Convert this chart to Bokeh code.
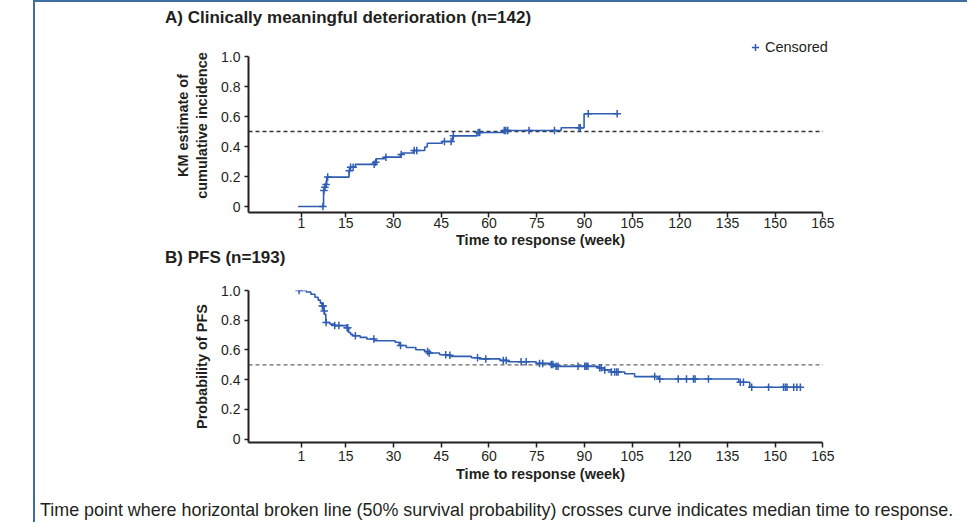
import numpy as np
from bokeh.plotting import figure
from bokeh.models import FixedTicker, Legend, LegendItem, Div
from bokeh.layouts import column
from bokeh.embed import file_html
from bokeh.resources import INLINE

# ---------------- data ----------------
title_a = "A) Clinically meaningful deterioration (n=142)"
title_b = "B) PFS (n=193)"
x_title = "Time to response (week)"
y_title_a = "KM estimate of\ncumulative incidence"
y_title_b = "Probability of PFS"
legend_label = "Censored"
footer = ("Time point where horizontal broken line (50% survival probability) "
          "crosses curve indicates median time to response.")

x_ticks = [1, 15, 30, 45, 60, 75, 90, 105, 120, 135, 150, 165]
y_ticks = [0, 0.2, 0.4, 0.6, 0.8, 1.0]
y_tick_labels = ["0", "0.2", "0.4", "0.6", "0.8", "1.0"]
median_ref = 0.5

# Panel A: cumulative incidence of clinically meaningful deterioration
times_a = [0, 8.0, 8.3, 8.6, 9.0, 16.0, 16.4, 18.0, 24.1, 24.6, 27.2, 32.1, 32.8, 36.2,
           39.8, 40.6, 45.3, 48.6, 56.2, 64.6, 82.7, 89.9]
inc_a = [0.0, 0.107, 0.128, 0.147, 0.196, 0.238, 0.262, 0.281, 0.295, 0.318, 0.329, 0.347,
         0.357, 0.373, 0.397, 0.422, 0.433, 0.471, 0.493, 0.507, 0.525, 0.618]
end_a = 100.3
censor_a = [7.8, 8.1, 8.4, 8.8, 9.3, 16.1, 16.5, 17.3, 23.9, 24.4, 27.6, 32.4, 36.5, 37.3,
            46.0, 48.1, 48.8, 56.6, 57.1, 64.8, 65.3, 65.9, 72.6, 80.6, 88.3, 88.7, 91.2, 100.3]

# Panel B: PFS probability
times_b = [0, 2.6, 4.0, 5.3, 6.3, 7.0, 7.6, 8.0, 8.3, 8.7, 10.0, 11.5, 15.4, 15.9, 16.5,
           17.2, 19.5, 21.6, 24.0, 30.5, 31.8, 34.0, 37.0, 39.8, 41.0, 44.5, 46.5, 48.0,
           54.5, 57.0, 63.5, 66.0, 74.8, 79.5, 80.6, 94.3, 96.3, 98.4, 102.7, 105.8,
           113.2, 138.5, 142.0]
surv_b = [1.0, 0.99, 0.975, 0.955, 0.935, 0.915, 0.895, 0.862, 0.84, 0.785, 0.774, 0.764,
          0.75, 0.718, 0.705, 0.696, 0.685, 0.674, 0.662, 0.652, 0.63, 0.617, 0.602, 0.59,
          0.58, 0.568, 0.564, 0.557, 0.548, 0.54, 0.53, 0.521, 0.51, 0.503, 0.49, 0.48,
          0.466, 0.452, 0.44, 0.421, 0.405, 0.383, 0.349]
end_b = 157.9
censor_b = [0.3, 7.6, 7.9, 8.2, 8.8, 11.5, 12.8, 15.4, 15.6, 18.0, 23.8, 32.2, 40.7, 41.2,
            46.4, 47.7, 56.4, 59.0, 64.5, 65.4, 70.1, 71.7, 75.9, 76.9, 79.6, 80.1, 81.1,
            81.7, 88.0, 90.1, 90.6, 91.1, 94.8, 95.3, 96.4, 98.5, 99.5, 100.1, 100.6,
            112.1, 113.7, 119.5, 122.1, 124.3, 124.8, 129.0, 139.0, 140.0, 142.6, 147.9,
            152.6, 153.2, 153.7, 155.8, 156.8, 157.9]

# ---------------- style ----------------
FONT = "Liberation Sans"
TXT = "#231f20"
BLUE = "#2f5db2"
BORDER = "#3f6fa0"
W = 932
X_START, X_END = -15.6, 168.0
FRAME_W = 584
BORDER_L = 213


def step_value(times, vals, t):
    idx = np.searchsorted(np.asarray(times), np.asarray(t), side="right") - 1
    return list(np.asarray(vals)[idx])


def make_fig(times, vals, end, censor, y_start, y_end, y_label, top, bottom, ylab_standoff,
             xlab_standoff, xtitle_standoff, dash_color):
    p = figure(width=W, height=216, x_range=(X_START, X_END), y_range=(y_start, y_end),
               output_backend="svg", toolbar_location=None,
               min_border_left=BORDER_L, min_border_right=W - BORDER_L - FRAME_W,
               min_border_top=top, min_border_bottom=bottom)
    p.grid.visible = False
    p.outline_line_color = None
    p.background_fill_color = "white"
    p.border_fill_color = "white"

    xa = p.xaxis[0]
    ya = p.yaxis[0]
    xa.ticker = FixedTicker(ticks=x_ticks)
    ya.ticker = FixedTicker(ticks=y_ticks)
    xa.bounds = (X_START, x_ticks[-1])
    ya.bounds = (y_start, y_ticks[-1])
    ya.major_label_overrides = {v: s for v, s in zip(y_ticks, y_tick_labels)}
    for ax in (xa, ya):
        ax.axis_line_width = 2
        ax.axis_line_color = TXT
        ax.major_tick_line_color = TXT
        ax.major_tick_line_width = 1.5
        ax.minor_tick_line_color = None
        ax.major_tick_in = 0
        ax.major_label_text_font = FONT
        ax.major_label_text_font_size = "14px"
        ax.major_label_text_color = TXT
        ax.axis_label_text_font = FONT
        ax.axis_label_text_font_style = "bold"
        ax.axis_label_text_font_size = "14.5px"
        ax.axis_label_text_color = TXT
    xa.major_tick_out = 5
    xa.major_label_standoff = xlab_standoff
    xa.axis_label = x_title
    xa.axis_label_standoff = xtitle_standoff
    ya.major_tick_out = 4
    ya.major_label_standoff = 4
    ya.axis_label = y_label
    ya.axis_label_standoff = ylab_standoff

    # 50% reference line, from the y axis to the last x tick
    p.segment(x0=[X_START], y0=[median_ref], x1=[x_ticks[-1]], y1=[median_ref],
              line_dash="4 3", line_color=dash_color, line_width=1.3)

    xs = list(times) + [end]
    ys = list(vals) + [vals[-1]]
    p.step(xs, ys, mode="after", line_color=BLUE, line_width=1.6)
    cr = p.scatter(censor, step_value(times, vals, censor), marker="cross", size=7.5,
                   line_color=BLUE, line_width=1.5)
    return p, cr


# Panel A: frame from top border 4 to bottom border 38 (height 174); 150 px per unit
TOP_A, BOT_A = 4, 38
FRAME_H_A = 216 - TOP_A - BOT_A
figA, crA = make_fig(times_a, inc_a, end_a, censor_a, -0.04, 1.12, y_title_a, TOP_A, BOT_A,
                     8, 0, 1, "#333333")
legend = Legend(items=[LegendItem(label=legend_label, renderers=[crA])],
                location=(497, FRAME_H_A - 18), orientation="horizontal",
                margin=0, padding=0, border_line_alpha=0, background_fill_alpha=0,
                glyph_width=20, glyph_height=18, label_height=18, label_standoff=0,
                label_text_font=FONT, label_text_font_size="14.5px", label_text_color=TXT)
figA.add_layout(legend)

figB, crB = make_fig(times_b, surv_b, end_b, censor_b, -0.022, 1.0, y_title_b, 20, 44, 8,
                     3, 2, "#666666")


def text_div(txt, h, size, weight, pad_top, pad_left, lh):
    html = (f'<div style="font-family:\'{FONT}\';font-weight:{weight};font-size:{size}px;'
            f'line-height:{lh}px;color:{TXT};padding:{pad_top}px 0 0 {pad_left}px;'
            f'white-space:nowrap;margin:0">{txt}</div>')
    return Div(text=html, width=W, height=h, margin=0)


divA = text_div(title_a, 32, 17, "bold", 6, 130, 20)
divB = text_div(title_b, 20, 17, "bold", 0, 130, 16)
divF = text_div(footer, 36, 17.9, "normal", 14, 5, 20)

layout = column(divA, figA, divB, figB, divF, margin=(0, 0, 0, 33),
                styles={"border-top": f"2px solid {BORDER}",
                        "border-left": f"2px solid {BORDER}",
                        "background-color": "white"})

open("out.html", "w").write(file_html(layout, INLINE))
